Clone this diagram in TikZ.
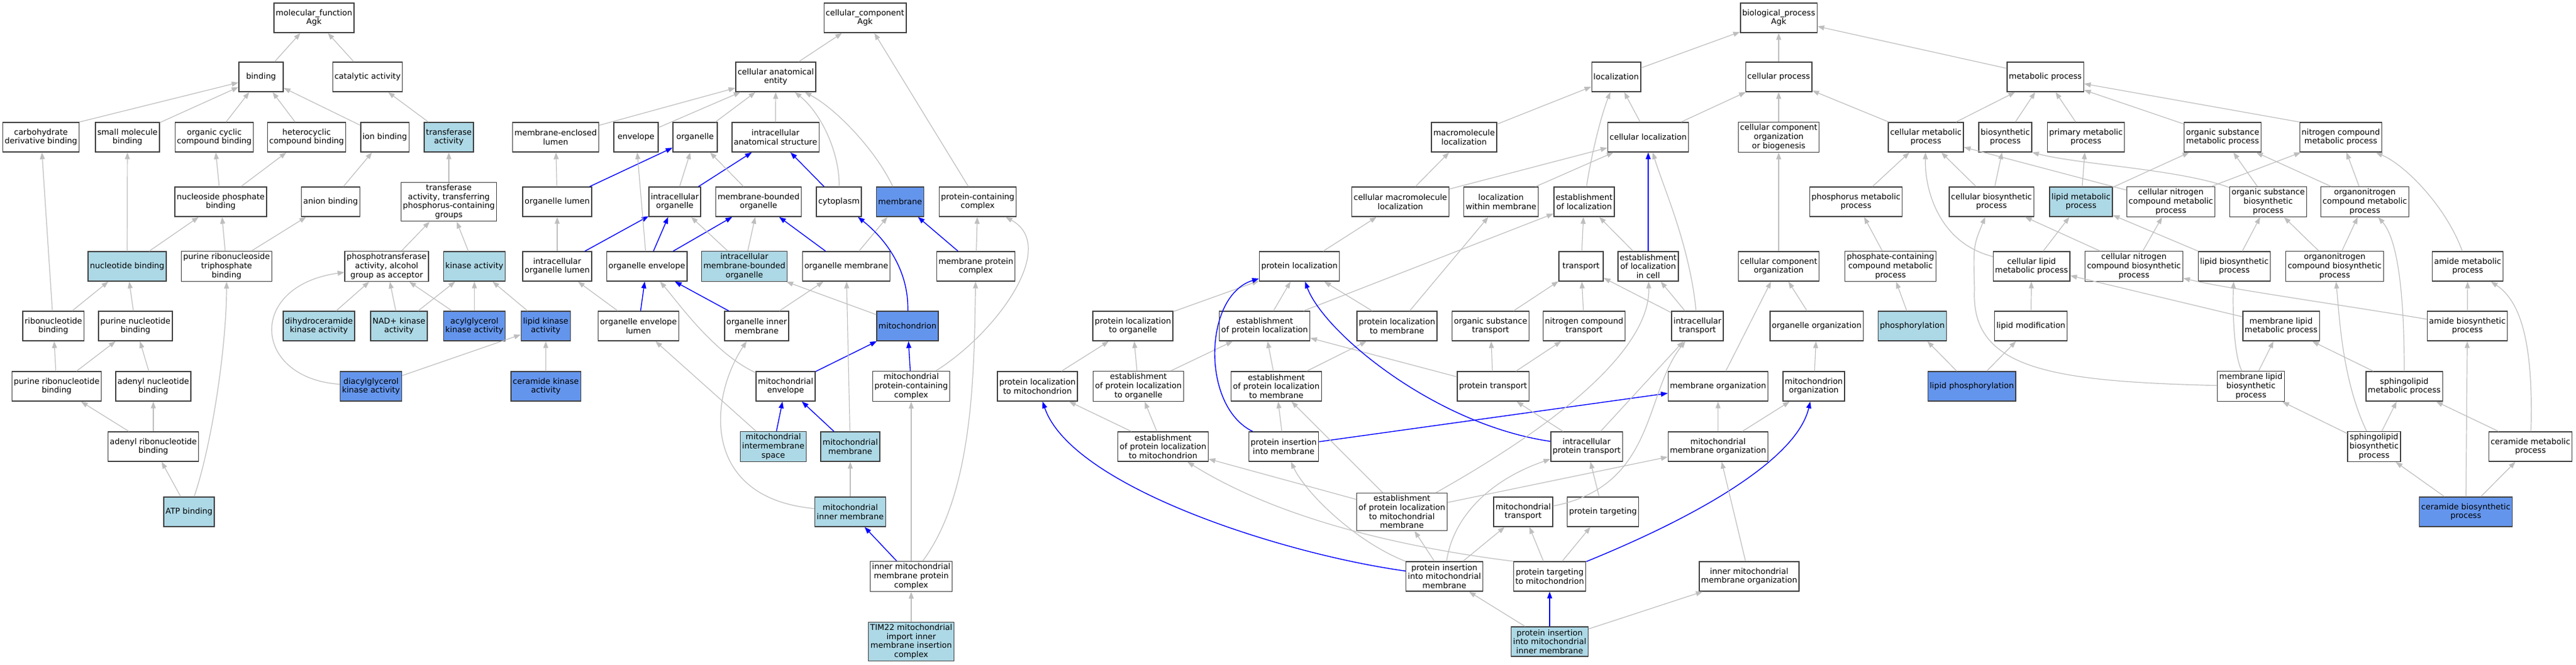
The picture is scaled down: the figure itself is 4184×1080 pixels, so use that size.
\documentclass[tikz,border=0pt]{standalone}
\usepackage{fontspec}
\setmainfont{DejaVu Sans}
\usetikzlibrary{arrows.meta}
\definecolor{lightblue}{HTML}{ADD8E6}
\definecolor{cornflower}{HTML}{6495ED}
\definecolor{edgegray}{HTML}{BEBEBE}
\begin{document}
\begin{tikzpicture}[x=1pt, y=-1pt, term style/.style={rectangle, draw=black!75, line width=1.4pt, fill=white, align=center, minimum width=72pt, minimum height=48pt, inner xsep=3pt, inner ysep=3.3pt, font=\fontsize{13}{14.7}\selectfont}, light style/.style={term style, fill=lightblue}, dark style/.style={term style, fill=cornflower}, isa style/.style={draw=edgegray, line width=1.2pt, -{Triangle[length=11pt, width=8pt]}}, path style/.style={draw=blue, line width=1.4pt, -{Triangle[length=11pt, width=8pt]}}]
	\useasboundingbox (0,0) rectangle (4184,1080);
	\node[term style] (mf) at (510,29) {molecular\_function\\Agk};
	\node[term style] (binding) at (424,125) {binding};
	\node[term style] (catalytic) at (597,125) {catalytic activity};
	\node[term style] (carbder) at (66.5,223) {carbohydrate\\derivative binding};
	\node[term style] (smallmol) at (207,223) {small molecule\\binding};
	\node[term style] (orgcyc) at (348,223) {organic cyclic\\compound binding};
	\node[term style] (hetcyc) at (498,223) {heterocyclic\\compound binding};
	\node[term style] (ionbind) at (625,223) {ion binding};
	\node[light style] (transf) at (729,223) {transferase\\activity};
	\node[term style] (nucphos) at (358.5,328) {nucleoside phosphate\\binding};
	\node[term style] (anion) at (537,328) {anion binding};
	\node[term style] (transphos) at (729,328) {transferase\\activity, transferring\\phosphorus-containing\\groups};
	\node[light style] (nucbind) at (206.5,433) {nucleotide binding};
	\node[term style] (prtp) at (368,433) {purine ribonucleoside\\triphosphate\\binding};
	\node[term style] (phosalc) at (628,433) {phosphotransferase\\activity, alcohol\\group as acceptor};
	\node[light style] (kinase) at (770.5,433) {kinase activity};
	\node[term style] (ribonuc) at (86.7,530) {ribonucleotide\\binding};
	\node[term style] (purnuc) at (220,530) {purine nucleotide\\binding};
	\node[light style] (dihydro) at (518,530) {dihydroceramide\\kinase activity};
	\node[light style] (nadk) at (648,530) {NAD+ kinase\\activity};
	\node[dark style] (acylg) at (770.5,530) {acylglycerol\\kinase activity};
	\node[dark style] (lipidk) at (886.4,530) {lipid kinase\\activity};
	\node[term style] (purribo) at (92,628) {purine ribonucleotide\\binding};
	\node[term style] (adenyl) at (249,628) {adenyl nucleotide\\binding};
	\node[dark style] (dagk) at (602.6,628) {diacylglycerol\\kinase activity};
	\node[dark style] (cerk) at (886.6,628) {ceramide kinase\\activity};
	\node[term style] (adenylribo) at (249,726) {adenyl ribonucleotide\\binding};
	\node[light style] (atp) at (307,832) {ATP binding};
	\node[term style] (cc) at (1405,29) {cellular\_component\\Agk};
	\node[term style] (cae) at (1260,125) {cellular anatomical\\entity};
	\node[term style] (memlumen) at (902.5,223) {membrane-enclosed\\lumen};
	\node[term style] (envelope) at (1033,223) {envelope};
	\node[term style] (organelle) at (1129,223) {organelle};
	\node[term style] (ias) at (1259.6,223) {intracellular\\anatomical structure};
	\node[term style] (orglumen) at (905,328) {organelle lumen};
	\node[term style] (intorg) at (1096,328) {intracellular\\organelle};
	\node[term style] (mbo) at (1232,328) {membrane-bounded\\organelle};
	\node[term style] (cytoplasm) at (1362.6,328) {cytoplasm};
	\node[dark style] (membrane) at (1462,328) {membrane};
	\node[term style] (pcc) at (1588,328) {protein-containing\\complex};
	\node[term style] (iol) at (905,433) {intracellular\\organelle lumen};
	\node[term style] (orgenv) at (1050.6,433) {organelle envelope};
	\node[light style] (imbo) at (1209,433) {intracellular\\membrane-bounded\\organelle};
	\node[term style] (orgmem) at (1374.5,433) {organelle membrane};
	\node[term style] (mpc) at (1585,433) {membrane protein\\complex};
	\node[term style] (oel) at (1037,530) {organelle envelope\\lumen};
	\node[term style] (oim) at (1229,530) {organelle inner\\membrane};
	\node[dark style] (mito) at (1474,530) {mitochondrion};
	\node[term style] (mitoenv) at (1276,628) {mitochondrial\\envelope};
	\node[term style] (mpcc) at (1480,628) {mitochondrial\\protein-containing\\complex};
	\node[light style] (mims) at (1256,726) {mitochondrial\\intermembrane\\space};
	\node[light style] (mitomem) at (1381,726) {mitochondrial\\membrane};
	\node[light style] (mimem) at (1381,832) {mitochondrial\\inner membrane};
	\node[term style] (immpc) at (1480,937) {inner mitochondrial\\membrane protein\\complex};
	\node[light style] (tim22) at (1480,1043) {TIM22 mitochondrial\\import inner\\membrane insertion\\complex};
	\node[term style] (bp) at (2889,29) {biological\_process\\Agk};
	\node[term style] (localization) at (2625,125) {localization};
	\node[term style] (cellproc) at (2889,125) {cellular process};
	\node[term style] (metproc) at (3322,125) {metabolic process};
	\node[term style] (macroloc) at (2378,223) {macromolecule\\localization};
	\node[term style] (cellloc) at (2677,223) {cellular localization};
	\node[term style] (ccob) at (2889,223) {cellular component\\organization\\or biogenesis};
	\node[term style] (cellmet) at (3128,223) {cellular metabolic\\process};
	\node[term style] (biosyn) at (3257,223) {biosynthetic\\process};
	\node[term style] (primet) at (3388,223) {primary metabolic\\process};
	\node[term style] (osmet) at (3610,223) {organic substance\\metabolic process};
	\node[term style] (ncmet) at (3802,223) {nitrogen compound\\metabolic process};
	\node[term style] (cmacroloc) at (2274.5,328) {cellular macromolecule\\localization};
	\node[term style] (locmem) at (2438,328) {localization\\within membrane};
	\node[term style] (estloc) at (2573,328) {establishment\\of localization};
	\node[term style] (phosmet) at (3014.5,328) {phosphorus metabolic\\process};
	\node[term style] (cellbio) at (3234.6,328) {cellular biosynthetic\\process};
	\node[light style] (lipmet) at (3380,328) {lipid metabolic\\process};
	\node[term style] (cncmet) at (3526,328) {cellular nitrogen\\compound metabolic\\process};
	\node[term style] (osbio) at (3684,328) {organic substance\\biosynthetic\\process};
	\node[term style] (oncmet) at (3841,328) {organonitrogen\\compound metabolic\\process};
	\node[term style] (protloc) at (2110.5,433) {protein localization};
	\node[term style] (transport) at (2568,433) {transport};
	\node[term style] (estloccell) at (2677,433) {establishment\\of localization\\in cell};
	\node[term style] (cco) at (2889,433) {cellular component\\organization};
	\node[term style] (phoscmp) at (3070.6,433) {phosphate-containing\\compound metabolic\\process};
	\node[term style] (clipmet) at (3299.6,433) {cellular lipid\\metabolic process};
	\node[term style] (cncbio) at (3466,433) {cellular nitrogen\\compound biosynthetic\\process};
	\node[term style] (lipbio) at (3629,433) {lipid biosynthetic\\process};
	\node[term style] (oncbio) at (3792,433) {organonitrogen\\compound biosynthetic\\process};
	\node[term style] (amidemet) at (4008,433) {amide metabolic\\process};
	\node[term style] (protlocorg) at (1840,530) {protein localization\\to organelle};
	\node[term style] (estprotloc) at (2054,530) {establishment\\of protein localization};
	\node[term style] (protlocmem) at (2269,530) {protein localization\\to membrane};
	\node[term style] (ostrans) at (2421,530) {organic substance\\transport};
	\node[term style] (nctrans) at (2573,530) {nitrogen compound\\transport};
	\node[term style] (inttrans) at (2757,530) {intracellular\\transport};
	\node[term style] (orgorg) at (2950.7,530) {organelle organization};
	\node[light style] (phosph) at (3106,530) {phosphorylation};
	\node[term style] (lipmod) at (3298.6,530) {lipid modification};
	\node[term style] (mlipmet) at (3705,530) {membrane lipid\\metabolic process};
	\node[term style] (amidebio) at (4007.5,530) {amide biosynthetic\\process};
	\node[term style] (protlocmito) at (1685,628) {protein localization\\to mitochondrion};
	\node[term style] (epltorg) at (1849,628) {establishment\\of protein localization\\to organelle};
	\node[term style] (epltmem) at (2073,628) {establishment\\of protein localization\\to membrane};
	\node[term style] (prottrans) at (2425,628) {protein transport};
	\node[term style] (memorg) at (2790.5,628) {membrane organization};
	\node[term style] (mitoorg) at (2946,628) {mitochondrion\\organization};
	\node[dark style] (lipphos) at (3202.6,628) {lipid phosphorylation};
	\node[term style] (mlipbio) at (3656,628) {membrane lipid\\biosynthetic\\process};
	\node[term style] (sphmet) at (3905,628) {sphingolipid\\metabolic process};
	\node[term style] (epltmito) at (1889,726) {establishment\\of protein localization\\to mitochondrion};
	\node[term style] (pinsmem) at (2085,726) {protein insertion\\into membrane};
	\node[term style] (intprottrans) at (2577,726) {intracellular\\protein transport};
	\node[term style] (mitomemorg) at (2790.5,726) {mitochondrial\\membrane organization};
	\node[term style] (sphbio) at (3856,726) {sphingolipid\\biosynthetic\\process};
	\node[term style] (cermet) at (4110,726) {ceramide metabolic\\process};
	\node[term style] (epltmitomem) at (2277,832) {establishment\\of protein localization\\to mitochondrial\\membrane};
	\node[term style] (mitotrans) at (2474,832) {mitochondrial\\transport};
	\node[term style] (prottarg) at (2603.5,832) {protein targeting};
	\node[dark style] (cerbio) at (4005,832) {ceramide biosynthetic\\process};
	\node[term style] (pinsmitomem) at (2346,937) {protein insertion\\into mitochondrial\\membrane};
	\node[term style] (prottargmito) at (2517,937) {protein targeting\\to mitochondrion};
	\node[term style] (immorg) at (2841,937) {inner mitochondrial\\membrane organization};
	\node[light style] (pinsimm) at (2517,1043) {protein insertion\\into mitochondrial\\inner membrane};
	\draw[isa style] (binding) -- (mf);
	\draw[isa style] (catalytic) -- (mf);
	\draw[isa style] (carbder.north east) -- (binding);
	\draw[isa style] (smallmol) -- (binding);
	\draw[isa style] (orgcyc) -- (binding);
	\draw[isa style] (hetcyc) -- (binding);
	\draw[isa style] (ionbind) -- (binding);
	\draw[isa style] (transf) -- (catalytic);
	\draw[isa style] (nucphos) -- (orgcyc);
	\draw[isa style] (nucphos) -- (hetcyc);
	\draw[isa style] (anion) -- (ionbind);
	\draw[isa style] (transphos) -- (transf);
	\draw[isa style] (nucbind) -- (smallmol);
	\draw[isa style] (nucbind) -- (nucphos);
	\draw[isa style] (prtp) -- (nucphos);
	\draw[isa style] (prtp) -- (anion);
	\draw[isa style] (phosalc) -- (transphos);
	\draw[isa style] (kinase) -- (transphos);
	\draw[isa style] (ribonuc) -- (carbder);
	\draw[isa style] (ribonuc) -- (nucbind);
	\draw[isa style] (purnuc) -- (nucbind);
	\draw[isa style] (dihydro) -- (phosalc);
	\draw[isa style] (nadk) -- (phosalc);
	\draw[isa style] (nadk) -- (kinase);
	\draw[isa style] (acylg) -- (phosalc);
	\draw[isa style] (acylg) -- (kinase);
	\draw[isa style] (lipidk) -- (kinase);
	\draw[isa style] (purribo) -- (ribonuc);
	\draw[isa style] (purribo) -- (purnuc);
	\draw[isa style] (adenyl) -- (purnuc);
	\draw[isa style] (dagk) .. controls (410,615) and (400,465) .. (phosalc);
	\draw[isa style] (dagk) -- (lipidk);
	\draw[isa style] (cerk) -- (lipidk);
	\draw[isa style] (adenylribo) -- (purribo);
	\draw[isa style] (adenylribo) -- (adenyl);
	\draw[isa style] (atp) -- (adenylribo);
	\draw[isa style] (atp) .. controls (345,720) and (368,560) .. (prtp);
	\draw[isa style] (cae) -- (cc);
	\draw[isa style] (pcc) -- (cc);
	\draw[isa style] (memlumen) -- (cae);
	\draw[isa style] (envelope) -- (cae);
	\draw[isa style] (organelle) -- (cae);
	\draw[isa style] (ias) -- (cae);
	\draw[isa style] (cytoplasm) .. controls (1364,250) and (1335,185) .. (cae);
	\draw[isa style] (membrane) .. controls (1420,240) and (1355,175) .. (cae);
	\draw[path style] (orglumen) -- (organelle);
	\draw[isa style] (orglumen) -- (memlumen);
	\draw[isa style] (intorg) -- (organelle);
	\draw[path style] (intorg) -- (ias);
	\draw[isa style] (mbo) -- (organelle);
	\draw[path style] (cytoplasm) -- (ias);
	\draw[isa style] (iol) -- (orglumen);
	\draw[path style] (iol) -- (intorg);
	\draw[isa style] (orgenv) -- (envelope);
	\draw[path style] (orgenv) -- (intorg);
	\draw[path style] (orgenv) -- (mbo);
	\draw[isa style] (imbo) -- (intorg);
	\draw[isa style] (imbo) -- (mbo);
	\draw[path style] (orgmem) -- (mbo);
	\draw[isa style] (orgmem) -- (membrane);
	\draw[path style] (mpc) -- (membrane);
	\draw[isa style] (mpc) -- (pcc);
	\draw[isa style] (oel) -- (iol);
	\draw[path style] (oel) -- (orgenv);
	\draw[path style] (oim) -- (orgenv);
	\draw[isa style] (oim) -- (orgmem);
	\draw[path style] (mito) .. controls (1476,440) and (1440,390) .. (cytoplasm);
	\draw[isa style] (mito) -- (imbo);
	\draw[isa style] (mitoenv) .. controls (1160,575) and (1100,490) .. (orgenv);
	\draw[path style] (mitoenv) -- (mito);
	\draw[isa style] (mpcc) .. controls (1620,540) and (1720,400) .. (pcc);
	\draw[path style] (mpcc) -- (mito);
	\draw[path style] (mims) -- (mitoenv);
	\draw[isa style] (mims) -- (oel);
	\draw[path style] (mitomem) -- (mitoenv);
	\draw[isa style] (mitomem) -- (orgmem);
	\draw[isa style] (mimem) -- (mitomem);
	\draw[isa style] (mimem) .. controls (1140,810) and (1150,650) .. (oim);
	\draw[path style] (immpc) -- (mimem);
	\draw[isa style] (immpc) -- (mpcc);
	\draw[isa style] (immpc) .. controls (1582,800) and (1582,600) .. (mpc);
	\draw[isa style] (tim22) -- (immpc);
	\draw[isa style] (localization) -- (bp);
	\draw[isa style] (cellproc) -- (bp);
	\draw[isa style] (metproc) -- (bp);
	\draw[isa style] (macroloc) -- (localization);
	\draw[isa style] (cellloc) -- (localization);
	\draw[isa style] (cellloc) -- (cellproc);
	\draw[isa style] (ccob) -- (cellproc);
	\draw[isa style] (cellmet) -- (cellproc);
	\draw[isa style] (cellmet) -- (metproc);
	\draw[isa style] (biosyn) -- (metproc);
	\draw[isa style] (primet) -- (metproc);
	\draw[isa style] (osmet) -- (metproc);
	\draw[isa style] (ncmet.north west) -- (metproc);
	\draw[isa style] (cmacroloc) -- (macroloc);
	\draw[isa style] (cmacroloc) -- (cellloc);
	\draw[isa style] (locmem) -- (cellloc);
	\draw[isa style] (estloc) .. controls (2585,250) and (2600,190) .. (localization);
	\draw[isa style] (phosmet) -- (cellmet);
	\draw[isa style] (cellbio) -- (cellmet);
	\draw[isa style] (cellbio) -- (biosyn);
	\draw[isa style] (lipmet) -- (primet);
	\draw[isa style] (lipmet) -- (osmet);
	\draw[isa style] (cncmet) -- (cellmet);
	\draw[isa style] (cncmet) -- (ncmet);
	\draw[isa style] (osbio) .. controls (3540,275) and (3380,268) .. (biosyn.south east);
	\draw[isa style] (osbio) -- (osmet);
	\draw[isa style] (oncmet) -- (osmet);
	\draw[isa style] (oncmet) -- (ncmet);
	\draw[isa style] (protloc) -- (cmacroloc);
	\draw[isa style] (transport) -- (estloc);
	\draw[isa style] (estloccell) -- (estloc);
	\draw[path style] (estloccell) -- (cellloc);
	\draw[isa style] (cco) -- (ccob);
	\draw[isa style] (phoscmp) -- (phosmet);
	\draw[isa style] (clipmet) .. controls (3150,395) and (3126,310) .. (cellmet);
	\draw[isa style] (clipmet) -- (lipmet);
	\draw[isa style] (cncbio) -- (cncmet);
	\draw[isa style] (cncbio) -- (cellbio);
	\draw[isa style] (lipbio) -- (osbio);
	\draw[isa style] (lipbio) -- (lipmet);
	\draw[isa style] (oncbio) -- (oncmet);
	\draw[isa style] (oncbio) -- (osbio);
	\draw[isa style] (amidemet) .. controls (3975,340) and (3910,270) .. (ncmet);
	\draw[isa style] (protlocorg) -- (protloc);
	\draw[isa style] (estprotloc) -- (protloc);
	\draw[isa style] (estprotloc) -- (estloc);
	\draw[isa style] (protlocmem) -- (protloc);
	\draw[isa style] (protlocmem) -- (locmem);
	\draw[isa style] (ostrans) -- (transport);
	\draw[isa style] (nctrans) -- (transport);
	\draw[isa style] (inttrans) -- (transport);
	\draw[isa style] (inttrans) -- (estloccell);
	\draw[isa style] (inttrans) .. controls (2745,400) and (2700,300) .. (cellloc);
	\draw[isa style] (orgorg) -- (cco);
	\draw[isa style] (phosph) -- (phoscmp);
	\draw[isa style] (lipmod) -- (clipmet);
	\draw[isa style] (mlipmet) -- (clipmet);
	\draw[isa style] (amidebio) -- (amidemet);
	\draw[isa style] (amidebio) .. controls (3800,495) and (3620,470) .. (cncbio);
	\draw[isa style] (protlocmito) -- (protlocorg);
	\draw[isa style] (epltorg) -- (protlocorg);
	\draw[isa style] (epltorg) -- (estprotloc);
	\draw[isa style] (epltmem) -- (estprotloc);
	\draw[isa style] (epltmem) -- (protlocmem);
	\draw[isa style] (prottrans) -- (estprotloc);
	\draw[isa style] (prottrans) -- (ostrans);
	\draw[isa style] (prottrans) -- (nctrans);
	\draw[isa style] (memorg) -- (cco);
	\draw[isa style] (mitoorg) -- (orgorg);
	\draw[isa style] (lipphos) -- (phosph);
	\draw[isa style] (lipphos) -- (lipmod);
	\draw[isa style] (mlipbio) -- (mlipmet);
	\draw[isa style] (mlipbio) .. controls (3628,580) and (3626,500) .. (lipbio);
	\draw[isa style] (mlipbio) .. controls (3330,620) and (3200,600) .. (3207,470) .. controls (3205,400) .. (cellbio);
	\draw[isa style] (sphmet) -- (mlipmet);
	\draw[isa style] (sphmet) .. controls (3905,480) and (3895,390) .. (oncmet);
	\draw[isa style] (epltmito) -- (protlocmito);
	\draw[isa style] (epltmito) -- (epltorg);
	\draw[isa style] (pinsmem) -- (epltmem);
	\draw[path style] (pinsmem) .. controls (1950,660) and (1955,480) .. (protloc);
	\draw[path style] (pinsmem) -- (memorg);
	\draw[isa style] (intprottrans) -- (prottrans);
	\draw[isa style] (intprottrans) -- (inttrans);
	\draw[path style] (intprottrans) .. controls (2330,690) and (2150,540) .. (protloc);
	\draw[isa style] (mitomemorg) -- (memorg);
	\draw[isa style] (mitomemorg) -- (mitoorg);
	\draw[isa style] (sphbio) -- (mlipbio);
	\draw[isa style] (sphbio) -- (sphmet);
	\draw[isa style] (sphbio) .. controls (3805,620) and (3800,520) .. (oncbio);
	\draw[isa style] (cermet) -- (sphmet);
	\draw[isa style] (cermet) .. controls (4115,560) and (4095,490) .. (amidemet);
	\draw[isa style] (epltmitomem) -- (epltmem);
	\draw[isa style] (epltmitomem) -- (epltmito);
	\draw[isa style] (epltmitomem) -- (mitomemorg);
	\draw[isa style] (epltmitomem) .. controls (2600,650) and (2680,540) .. (estloccell);
	\draw[isa style] (mitotrans) .. controls (2690,790) and (2670,640) .. (inttrans);
	\draw[isa style] (prottarg) -- (intprottrans);
	\draw[isa style] (cerbio) -- (sphbio);
	\draw[isa style] (cerbio) -- (amidebio);
	\draw[isa style] (cerbio) -- (cermet);
	\draw[isa style] (pinsmitomem) -- (epltmitomem);
	\draw[isa style] (pinsmitomem) -- (mitotrans);
	\draw[isa style] (pinsmitomem) .. controls (2360,840) and (2420,780) .. (intprottrans);
	\draw[isa style] (pinsmitomem) .. controls (2200,880) and (2120,800) .. (pinsmem);
	\draw[path style] (pinsmitomem) .. controls (2080,900) and (1740,790) .. (protlocmito);
	\draw[isa style] (prottargmito) -- (mitotrans);
	\draw[isa style] (prottargmito) -- (prottarg);
	\draw[isa style] (prottargmito.north west) .. controls (2280,890) and (2080,845) .. (epltmito);
	\draw[path style] (prottargmito) .. controls (2780,830) and (2920,740) .. (mitoorg);
	\draw[isa style] (immorg) -- (mitomemorg);
	\draw[isa style] (pinsimm) -- (pinsmitomem);
	\draw[path style] (pinsimm) -- (prottargmito);
	\draw[isa style] (pinsimm) -- (immorg);
\end{tikzpicture}
\end{document}
